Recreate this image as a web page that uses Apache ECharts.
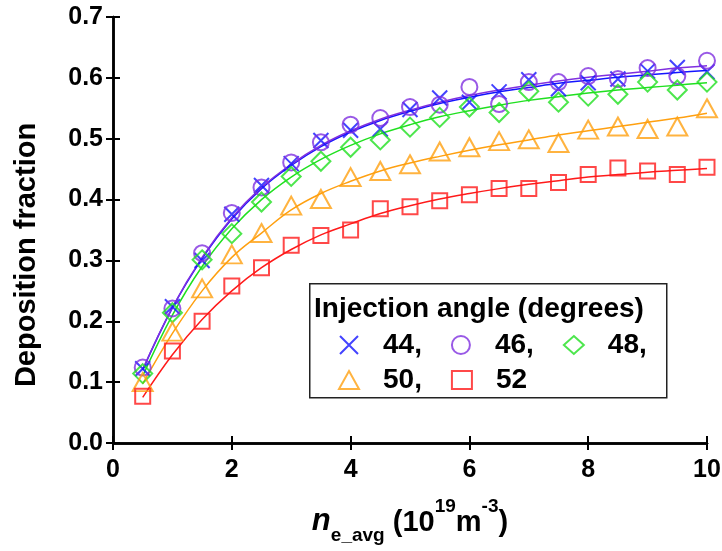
<!DOCTYPE html>
<html>
<head>
<meta charset="utf-8">
<script src="https://cdn.jsdelivr.net/npm/echarts@6/dist/echarts.min.js"></script>
<style>
  html, body { margin: 0; padding: 0; background: #fff; }
  #chart { width: 722px; height: 551px; }
</style>
</head>
<body>
<div id="chart"></div>
<script>
// Line-averaged electron density (10^19 m^-3)
var density = [0.5, 1, 1.5, 2, 2.5, 3, 3.5, 4, 4.5, 5, 5.5, 6, 6.5, 7, 7.5, 8, 8.5, 9, 9.5, 10];

// Injection angles (degrees)
var angles = ['44', '46', '48', '50', '52'];

// Measured deposition fraction per angle
var dep44 = [0.122, 0.224, 0.300, 0.376, 0.423, 0.459, 0.497, 0.514, 0.516, 0.548, 0.567, 0.560, 0.577, 0.597, 0.582, 0.592, 0.598, 0.611, 0.617, 0.610];
var dep46 = [0.124, 0.221, 0.312, 0.378, 0.420, 0.461, 0.494, 0.523, 0.534, 0.552, 0.556, 0.585, 0.557, 0.593, 0.593, 0.603, 0.598, 0.616, 0.603, 0.628];
var dep48 = [0.114, 0.214, 0.301, 0.344, 0.396, 0.438, 0.463, 0.486, 0.498, 0.519, 0.535, 0.552, 0.543, 0.578, 0.560, 0.570, 0.573, 0.593, 0.580, 0.593];
var dep50 = [0.100, 0.183, 0.254, 0.310, 0.345, 0.390, 0.401, 0.437, 0.447, 0.458, 0.479, 0.486, 0.496, 0.499, 0.493, 0.515, 0.520, 0.516, 0.520, 0.550];
var dep52 = [0.077, 0.151, 0.200, 0.258, 0.288, 0.325, 0.341, 0.350, 0.385, 0.388, 0.398, 0.408, 0.418, 0.418, 0.428, 0.441, 0.452, 0.447, 0.441, 0.453];

// Fitted trend curves per angle
var fit44 = [0.120, 0.222, 0.303, 0.368, 0.418, 0.456, 0.487, 0.511, 0.530, 0.545, 0.558, 0.568, 0.577, 0.584, 0.591, 0.596, 0.601, 0.605, 0.609, 0.612];
var fit46 = [0.121, 0.223, 0.305, 0.370, 0.420, 0.458, 0.489, 0.513, 0.532, 0.547, 0.560, 0.571, 0.580, 0.588, 0.595, 0.601, 0.606, 0.611, 0.616, 0.620];
var fit48 = [0.110, 0.210, 0.290, 0.352, 0.400, 0.437, 0.466, 0.489, 0.508, 0.523, 0.536, 0.546, 0.555, 0.563, 0.569, 0.575, 0.580, 0.584, 0.588, 0.592];
var fit50 = [0.097, 0.180, 0.250, 0.305, 0.345, 0.383, 0.410, 0.430, 0.447, 0.460, 0.471, 0.481, 0.490, 0.498, 0.506, 0.513, 0.520, 0.527, 0.534, 0.542];
var fit52 = [0.075, 0.145, 0.203, 0.250, 0.288, 0.318, 0.342, 0.360, 0.377, 0.390, 0.401, 0.410, 0.418, 0.425, 0.431, 0.437, 0.441, 0.445, 0.448, 0.451];

// Axis tick values
var xTicks = [0, 2, 4, 6, 8, 10];
var yTicks = [0.0, 0.1, 0.2, 0.3, 0.4, 0.5, 0.6, 0.7];

var measured = [dep44, dep46, dep48, dep50, dep52];
var fitted = [fit44, fit46, fit48, fit50, fit52];

var colors = ['#1414ff', '#8030e0', '#20e020', '#ffa010', '#ff1a1a'];
var symbols = [
  'path://M0,0L10,10M10,0L0,10',
  'circle',
  'diamond',
  'triangle',
  'rect'
];
var sizes = [[15, 15], [16, 16], [19, 19], [20, 18], [15, 15]];

function pairs(ys) {
  return density.map(function (x, i) { return [x, ys[i]]; });
}

var series = [];
angles.forEach(function (a, k) {
  series.push({
    name: 'fit' + a,
    type: 'line',
    data: pairs(fitted[k]),
    smooth: 0.4,
    showSymbol: false,
    silent: true,
    z: 2,
    lineStyle: { color: colors[k], width: 1.5 }
  });
});
angles.forEach(function (a, k) {
  series.push({
    name: a,
    type: 'scatter',
    data: pairs(measured[k]),
    symbol: symbols[k],
    symbolSize: sizes[k],
    z: 3,
    itemStyle: {
      color: 'rgba(0,0,0,0)',
      borderColor: colors[k],
      borderWidth: 2
    }
  });
});

var axisLine = { show: true, lineStyle: { color: '#000', width: 2.5 } };
var axisTick = { show: true, inside: true, length: 7, lineStyle: { color: '#000', width: 2 } };
var labelFont = { color: '#000', fontFamily: 'Liberation Sans, Arial, sans-serif', fontWeight: 'bold', fontSize: 25 };
var fam = '"Liberation Sans", Arial, sans-serif';

var chart = echarts.init(document.getElementById('chart'));
chart.setOption({
  backgroundColor: '#fff',
  animation: false,
  grid: { left: 113, right: 15, top: 17, bottom: 108, containLabel: false, outerBoundsMode: 'none' },
  xAxis: [{
    type: 'value',
    min: xTicks[0],
    max: xTicks[xTicks.length - 1],
    interval: xTicks[1] - xTicks[0],
    axisLine: axisLine,
    axisTick: axisTick,
    splitLine: { show: false },
    axisLabel: Object.assign({ margin: 15 }, labelFont),
    name: '{n|n}{sub|e_avg}{t| (10}{sup|19}{t|m}{sup|-3}{t|)}',
    nameLocation: 'middle',
    nameGap: 54,
    nameTextStyle: {
      rich: {
        n: { fontFamily: fam, fontWeight: 'bold', fontStyle: 'italic', fontSize: 31, color: '#000', verticalAlign: 'bottom', lineHeight: 40 },
        t: { fontFamily: fam, fontWeight: 'bold', fontSize: 29, color: '#000', verticalAlign: 'bottom', lineHeight: 40 },
        sub: { fontFamily: fam, fontWeight: 'bold', fontSize: 19, color: '#000', verticalAlign: 'bottom', lineHeight: 40, padding: [0, 0, -8, 0] },
        sup: { fontFamily: fam, fontWeight: 'bold', fontSize: 19, color: '#000', verticalAlign: 'top', lineHeight: 40 }
      }
    }
  }, {
    type: 'value',
    position: 'top',
    min: xTicks[0],
    max: xTicks[xTicks.length - 1],
    interval: xTicks[1] - xTicks[0],
    axisLine: axisLine,
    axisTick: axisTick,
    axisLabel: { show: false },
    splitLine: { show: false }
  }],
  yAxis: [{
    type: 'value',
    min: yTicks[0],
    max: yTicks[yTicks.length - 1],
    interval: 0.1,
    axisLine: axisLine,
    axisTick: axisTick,
    splitLine: { show: false },
    axisLabel: Object.assign({ margin: 10, formatter: function (v) { return v.toFixed(1); } }, labelFont),
    name: 'Deposition fraction',
    nameLocation: 'middle',
    nameRotate: 90,
    nameGap: 72,
    nameTextStyle: { color: '#000', fontFamily: fam, fontWeight: 'bold', fontSize: 29, padding: [0, 50, 0, 0] }
  }, {
    type: 'value',
    position: 'right',
    min: yTicks[0],
    max: yTicks[yTicks.length - 1],
    interval: 0.1,
    axisLine: axisLine,
    axisTick: axisTick,
    axisLabel: { show: false },
    splitLine: { show: false }
  }],
  graphic: [{
    type: 'rect',
    left: 309, top: 283,
    shape: { width: 357, height: 114 },
    style: { fill: '#fff', stroke: '#222', lineWidth: 1.5 },
    z: 10
  }, {
    type: 'text',
    left: 314, top: 295,
    style: {
      text: 'Injection angle (degrees)',
      fill: '#000',
      font: 'bold 28px ' + fam
    },
    z: 11
  }],
  legend: {
    data: angles,
    left: 338,
    top: 331,
    width: 350,
    padding: 0,
    itemWidth: 20,
    itemHeight: 18,
    itemGap: 7,
    z: 12,
    selectedMode: false,
    formatter: function (name) { return name === angles[angles.length - 1] ? name : name + ','; },
    textStyle: { color: '#000', fontFamily: fam, fontWeight: 'bold', fontSize: 28, lineHeight: 18, padding: [0, 22, 0, 19] }
  },
  series: series
});
</script>
</body>
</html>
